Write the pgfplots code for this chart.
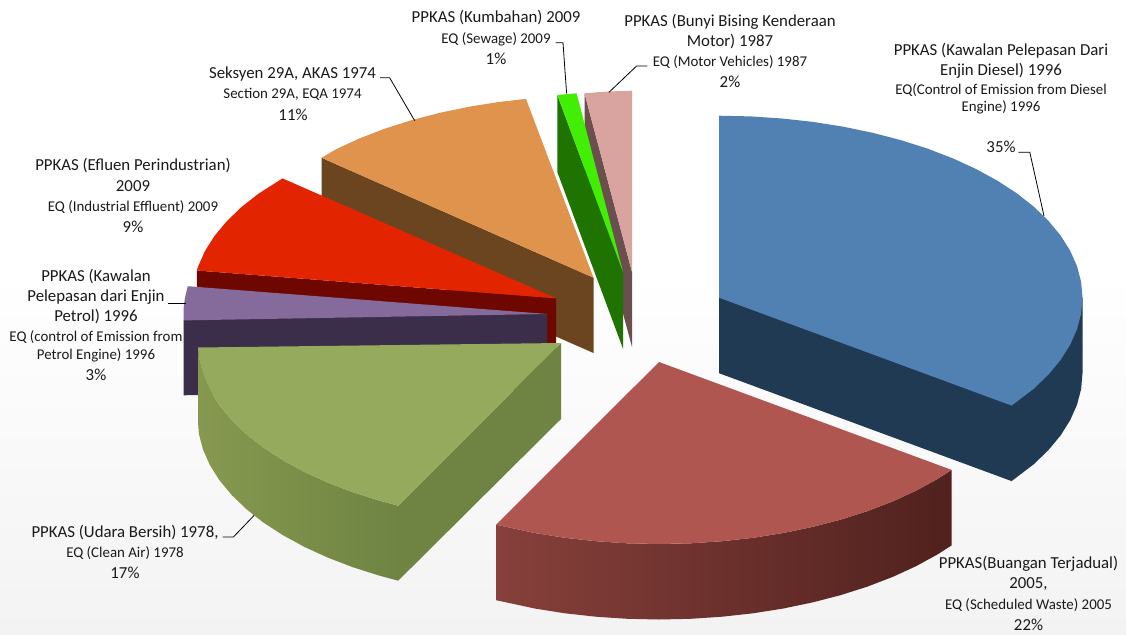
\documentclass[border=0pt]{standalone}
\usepackage{pgfplots}
\pgfplotsset{compat=1.18}
\usepackage{fontspec}
\setmainfont{Carlito}
\definecolor{bluetop}{HTML}{5181B3}
\definecolor{bluewall}{HTML}{203A54}
\definecolor{redtop}{HTML}{B05650}
\definecolor{redwallL}{HTML}{87403B}
\definecolor{redwallM}{HTML}{5F2A26}
\definecolor{redwallR}{HTML}{50211E}
\definecolor{greentop}{HTML}{95AA5C}
\definecolor{greenwallL}{HTML}{87994F}
\definecolor{greeninner}{HTML}{6F8443}
\definecolor{purpletop}{HTML}{846B9B}
\definecolor{purplewall}{HTML}{3A2E4A}
\definecolor{scarlet}{HTML}{E32400}
\definecolor{scarletwall}{HTML}{6E0700}
\definecolor{orangetop}{HTML}{E0934C}
\definecolor{orangewall}{HTML}{6B4420}
\definecolor{limetop}{HTML}{43EE05}
\definecolor{limewall}{HTML}{1F7300}
\definecolor{pinktop}{HTML}{D9A3A0}
\definecolor{pinkwall}{HTML}{6B4F4D}
\definecolor{lbl}{HTML}{1A1A1A}
\definecolor{bgbottom}{HTML}{F3F3F3}
\pgfplotsset{
  poly/.style={draw=none, mark=none, forget plot},
  lead/.style={draw=black, line width=0.8pt, mark=none, forget plot},
}
\tikzset{
  big/.style={font=\fontsize{16.8}{18}\selectfont, text=lbl, anchor=center, inner sep=0pt},
  sm/.style={font=\fontsize{14.9}{16}\selectfont, text=lbl, anchor=center, inner sep=0pt},
}
\begin{document}
\begin{tikzpicture}
\begin{axis}[
  width=1126pt, height=634pt, scale only axis,
  xmin=0, xmax=1126, ymin=0, ymax=634, y dir=reverse,
  hide axis, clip=true,
]
% background
\addplot[poly, fill=white] coordinates {(0,0) (1126,0) (1126,634) (0,634)} --cycle;
\addplot[poly, top color=white, bottom color=bgbottom] coordinates {(0,270) (1126,270) (1126,634) (0,634)} --cycle;
% pink 2%
\addplot[poly, fill=pinkwall] coordinates {(584.5,93.3) (584.5,170) (632,347) (632,272)} --cycle;
\addplot[poly, fill=pinktop] coordinates {(584.5,93.3) (608,91.5) (632,90.7) (632,272)} --cycle;
% lime 1%
\addplot[poly, fill=limewall] coordinates {(557.3,95) (557.3,172) (623,348.7) (623,272)} --cycle;
\addplot[poly, fill=limetop] coordinates {(557.3,95) (576.6,93.3) (623,272)} --cycle;
% orange 11%
\addplot[poly, fill=orangewall] coordinates {(321.5,157.8) (321.5,233.5) (593.5,353) (593.5,277.7)} --cycle;
\addplot[poly, fill=orangetop] coordinates {(321.5,157.8) (336.5,149) (359.8,138.3) (385,128.6) (411.75,120.1) (439.9,112.8) (469.2,106.7) (499.4,101.9) (526,98.9) (593.5,277.7)} --cycle;
% scarlet 9%
\addplot[poly, fill=scarletwall] coordinates {(196.8,270.5) (196.8,346) (556,374) (556,298.3)} --cycle;
\addplot[poly, fill=scarlet] coordinates {(196.8,270.5) (198,266.7) (204.9,251.2) (214.4,236.1) (226.6,221.4) (241.2,207.3) (258.2,193.9) (282.5,178.4) (556,298.3)} --cycle;
% purple 3%
\addplot[poly, fill=purplewall] coordinates {(183.7,320) (183.7,395.3) (198,395) (547,390) (547,314)} --cycle;
\addplot[poly, fill=purpletop] coordinates {(183.7,320.4) (183.5,314) (183.7,307.6) (184.9,298.1) (187.8,286.2) (547,314)} --cycle;
% green 17%
\addplot[poly, fill=greeninner] coordinates {(561,343) (561,419) (398.2,580.7) (398.2,505.7)} --cycle;
\addplot[poly, left color=greenwallL, right color=greeninner] coordinates {(198,347.5) (198.9,358.9) (203,374.6) (209.9,390.1) (219.4,405.2) (231.6,419.9) (246.2,434) (263.2,447.4) (282.6,460) (304,471.7) (327.3,482.4) (352.5,492.1) (379.25,500.6) (398.2,505.7) (398.2,580.7) (379.25,575.6) (352.5,567.1) (327.3,557.4) (304,546.7) (282.6,535) (263.2,522.4) (246.2,509) (231.6,494.9) (219.4,480.2) (209.9,465.1) (203,449.6) (198.9,433.9) (198,422.5)} --cycle;
\addplot[poly, fill=greentop] coordinates {(561,343) (398.2,505.7) (379.25,500.6) (352.5,492.1) (327.3,482.4) (304,471.7) (282.6,460) (263.2,447.4) (246.2,434) (231.6,419.9) (219.4,405.2) (209.9,390.1) (203,374.6) (198.9,358.9) (198,347.5)} --cycle;
% red 22%
\addplot[poly, left color=redwallL, middle color=redwallM, right color=redwallR] coordinates {(951.6,469.9) (937.4,479) (916,490.7) (892.7,501.4) (867.5,511.1) (840.75,519.6) (812.6,526.9) (783.3,533) (753.1,537.8) (722.1,541.2) (690.7,543.3) (659,544) (627.3,543.3) (595.9,541.2) (564.9,537.8) (534.7,533) (496.2,524.7) (496.2,600.2) (534.7,608.5) (564.9,613.3) (595.9,616.7) (627.3,618.8) (659,619.5) (690.7,618.8) (722.1,616.7) (753.1,613.3) (783.3,608.5) (812.6,602.4) (840.75,595.1) (867.5,586.6) (892.7,576.9) (916,566.2) (937.4,554.5) (951.6,545.4)} --cycle;
\addplot[poly, fill=redtop] coordinates {(659,362) (951.6,469.9) (937.4,479) (916,490.7) (892.7,501.4) (867.5,511.1) (840.75,519.6) (812.6,526.9) (783.3,533) (753.1,537.8) (722.1,541.2) (690.7,543.3) (659,544) (627.3,543.3) (595.9,541.2) (564.9,537.8) (534.7,533) (496.2,524.7)} --cycle;
% blue 35%
\addplot[poly, fill=bluewall] coordinates {(719,297.7) (719,373.2) (1011.6,481.1) (1033.8,464.2) (1048.4,450.1) (1060.6,435.4) (1070.1,420.3) (1077,404.8) (1081.1,389.1) (1082.5,373.2) (1082.5,297.7)} --cycle;
\addplot[poly, fill=bluetop] coordinates {(719,297.7) (719,115.7) (750.7,116.4) (782,118.5) (813.1,121.9) (843.3,126.7) (872.6,132.8) (900.8,140.1) (927.5,148.6) (952.7,158.3) (976,169) (997.4,180.7) (1016.8,193.3) (1033.8,206.7) (1048.4,220.8) (1060.6,235.5) (1070.1,250.6) (1077,266.1) (1081.1,281.8) (1082.5,297.7) (1081.1,313.6) (1077,329.3) (1070.1,344.8) (1060.6,359.9) (1048.4,374.6) (1033.8,388.7) (1011.6,405.6)} --cycle;
% leader lines
\addplot[lead] coordinates {(380,77.7) (389.6,77.7) (414.7,120.7)};
\addplot[lead] coordinates {(555.5,42.7) (563,42.7) (566.6,93.3)};
\addplot[lead] coordinates {(647.4,66) (636.6,66) (609,92.3)};
\addplot[lead] coordinates {(1018.3,152.3) (1029.8,152.3) (1044,216)};
\addplot[lead] coordinates {(168,303.3) (186,303.3)};
\addplot[lead] coordinates {(222.6,537) (233.4,537) (254.2,515.3)};
% labels
\node[big] at (axis cs:496,18) {PPKAS (Kumbahan) 2009};
\node[sm] at (axis cs:496,39) {EQ (Sewage) 2009};
\node[big] at (axis cs:496,59) {1\%};
\node[big] at (axis cs:292.5,74) {Seksyen 29A, AKAS 1974};
\node[sm] at (axis cs:292.5,94.5) {Section 29A, EQA 1974};
\node[big] at (axis cs:293,114.5) {11\%};
\node[big] at (axis cs:730,22) {PPKAS (Bunyi Bising Kenderaan};
\node[big] at (axis cs:730,42) {Motor) 1987};
\node[sm] at (axis cs:730,62) {EQ (Motor Vehicles) 1987};
\node[big] at (axis cs:730,82) {2\%};
\node[big] at (axis cs:1001,51) {PPKAS (Kawalan Pelepasan Dari};
\node[big] at (axis cs:1001,71) {Enjin Diesel) 1996};
\node[sm] at (axis cs:1001,90) {EQ(Control of Emission from Diesel};
\node[sm] at (axis cs:1001,107) {Engine) 1996};
\node[big] at (axis cs:1001,147) {35\%};
\node[big] at (axis cs:133,166) {PPKAS (Efluen Perindustrian)};
\node[big] at (axis cs:133,186.5) {2009};
\node[sm] at (axis cs:133,207) {EQ (Industrial Effluent) 2009};
\node[big] at (axis cs:133,227) {9\%};
\node[big] at (axis cs:96,277) {PPKAS (Kawalan};
\node[big] at (axis cs:96,297) {Pelepasan dari Enjin};
\node[big] at (axis cs:96,317) {Petrol) 1996};
\node[sm] at (axis cs:96,337) {EQ (control of Emission from};
\node[sm] at (axis cs:96,355.5) {Petrol Engine) 1996};
\node[big] at (axis cs:96,375) {3\%};
\node[big] at (axis cs:125,533) {PPKAS (Udara Bersih) 1978,};
\node[sm] at (axis cs:125,553.5) {EQ (Clean Air) 1978};
\node[big] at (axis cs:125,573) {17\%};
\node[big] at (axis cs:1028.5,564) {PPKAS(Buangan Terjadual)};
\node[big] at (axis cs:1028.5,584.5) {2005,};
\node[sm] at (axis cs:1028.5,605) {EQ (Scheduled Waste) 2005};
\node[big] at (axis cs:1028.5,625) {22\%};
\end{axis}
\end{tikzpicture}
\end{document}
